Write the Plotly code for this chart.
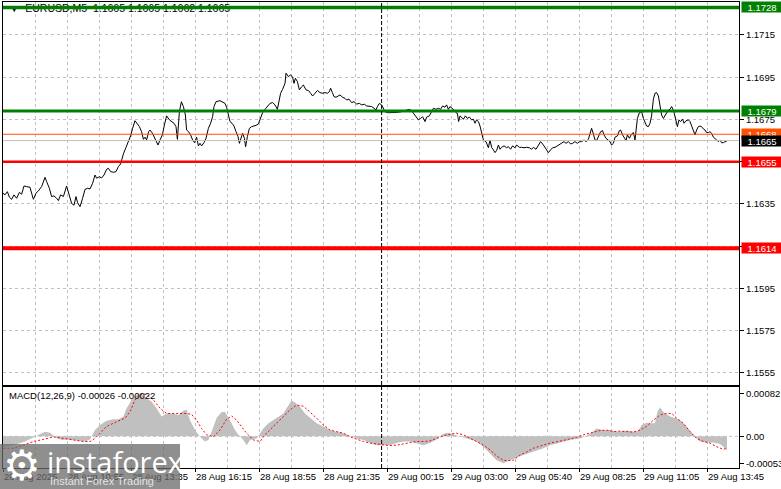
import plotly.graph_objects as go

W, H = 781, 489

# ---------------- data ----------------
price_bar = [0, 1, 2.2, 3.2, 4.3, 5.5, 6.8, 8.2, 9.3, 10.5, 11.8, 13.5, 14.3, 15.2, 16.5, 17.7, 19.3, 21, 21.8, 23.2,
             24.3, 25.5, 26.8, 27.7, 28.8, 30.2, 31.8, 33.2, 34.3, 35.5, 36.5, 37.3, 38.5, 39.8, 41, 42.2, 43.5, 44.8,
             46, 46.8, 48.2, 49.3, 50.5, 51.8, 52.7, 53.8, 55.2, 56.5, 57.7, 58.8, 60.2, 61.5, 62.7, 63.8, 64.8, 66,
             67.2, 68.2, 69.3, 70.2, 71, 71.8, 72.8, 73.5, 74.7, 75.5, 76.5, 77.5, 78.5, 79.7, 80.7, 81.8, 83.2, 84.3,
             85.5, 86.5, 87.2, 88.2, 89.2, 90.2, 91.2, 91.8, 92.8, 93.8, 94.8, 95.8, 96.8, 97.7, 98.5, 99.3, 100.5,
             101.5, 102.7, 103.8, 104.8, 105.5, 106.5, 108.5, 109.8, 111, 111.8, 112.7, 113.5, 114.5, 115.5, 116.5,
             117.5, 118.2, 119, 119.8, 120.7, 121.3, 122.2, 123.2, 124.3, 125.5, 126.5, 127.7, 128.5, 129.8, 131,
             132.2, 133.5, 134.8, 136, 137.2, 138.2, 138.8, 139.8, 141, 141.5, 142.7, 143.8, 144.8, 145.5, 146.2,
             147.2, 148.2, 149.3, 150.2, 151.5, 152.7, 153.8, 154.8, 156, 157.2, 158.5, 159.8, 161, 162.2, 163.2,
             163.8, 164.7, 165.5, 166.5, 167.7, 168.5, 169.8, 171, 171.8, 173, 174.3, 175.5, 176.8, 178.2, 179.3,
             180.7, 181.8, 183.2, 184.3, 185.5, 186.5, 187.2, 188.2, 189.3, 190.2,
             191, 192.2, 194.3, 196.8, 199.3, 201.8, 203.2, 204.3, 205.2, 206.5, 207.7, 208.8, 209.8, 211, 211.8,
             213.2, 214.3, 215.2, 216.5, 217.7, 218.8, 219.8, 221, 221.8, 222.7, 223.5, 225.5, 226.5, 227.2, 227.8,
             228.5, 230.2, 231.2, 232.2, 233.2, 234.3, 235.2, 236, 236.8, 237.7, 238.5, 239.3, 240.2, 241.5, 242.7,
             243.5, 244.3, 245.2, 246, 246.8, 247.7, 248.5, 249.3, 250.5, 251.8, 252.7, 253.8, 254.8, 256, 256.8,
             258.2, 259.3, 260.5, 261.8, 263.2, 264.3, 265.2, 266.5, 267.7, 268.8, 270.2, 271.5, 272.7, 273.8, 274.8,
             276, 277.2, 278.2, 279.3, 280.5, 281.5, 282.7, 283.8, 284.8, 286, 287.2, 288.2, 289.3, 290.5, 291.5,
             292.7, 293.5, 294.3, 295.2, 296, 296.8, 297.7, 298.8, 299.8, 300.5, 301.5, 302.7, 303.5, 304.3, 305.2,
             306, 307.2, 308.2, 308.8, 309.8, 310.7, 311.5, 312.2, 313.2, 314.3, 315.2, 316, 316.5, 317.2, 318.2,
             319.3, 320.2, 321, 321.8, 322.7, 323.5, 324.3, 325.2, 326, 326.8, 327.7, 328.5, 329.3, 330.2, 331,
             331.8, 332.7, 333.5, 334.3, 335.2, 336, 337.2, 338, 338.8, 339.8, 340.5, 341.5, 342.7, 343.5, 344.3,
             345.2, 346, 346.8, 347.7, 348.5, 349.3, 350.2, 351, 351.8, 352.7, 353.5, 354.3, 355.2, 356, 356.8,
             357.7, 358.5, 359.3, 360.2, 361, 361.8]
price_close = [1.16401, 1.16393, 1.16408, 1.16382, 1.16372, 1.16393, 1.16377, 1.16405, 1.16396, 1.16435, 1.16432,
               1.16429, 1.16401, 1.16372, 1.16401, 1.16412, 1.16432, 1.16476, 1.16456, 1.16424, 1.16385, 1.16388,
               1.16377, 1.16366, 1.16393, 1.16385, 1.16435, 1.16393, 1.16353, 1.16344, 1.16385, 1.16356, 1.16337,
               1.16377, 1.16419, 1.16424, 1.16421, 1.16448, 1.16487, 1.16472, 1.16479, 1.16473, 1.16487, 1.16514,
               1.16519, 1.16503, 1.16500, 1.16503, 1.16527, 1.16539, 1.16587, 1.16618, 1.16645, 1.16672, 1.16708,
               1.16744, 1.16729, 1.16716, 1.16692, 1.16656, 1.16666, 1.16653, 1.16692, 1.16700, 1.16685, 1.16669,
               1.16645, 1.16629, 1.16653, 1.16677, 1.16724, 1.16767, 1.16748, 1.16740, 1.16732, 1.16716, 1.16656,
               1.16787, 1.16834, 1.16811, 1.16771, 1.16700, 1.16692, 1.16677, 1.16653, 1.16640, 1.16666, 1.16625,
               1.16637, 1.16625, 1.16640, 1.16661, 1.16708, 1.16732, 1.16763, 1.16811, 1.16834, 1.16839, 1.16834,
               1.16826, 1.16808, 1.16776, 1.16740, 1.16732, 1.16719, 1.16692, 1.16669, 1.16637, 1.16666, 1.16685,
               1.16661, 1.16621, 1.16669, 1.16708, 1.16716, 1.16719, 1.16722, 1.16729, 1.16748, 1.16782, 1.16798,
               1.16811, 1.16826, 1.16830, 1.16819, 1.16798, 1.16855, 1.16874, 1.16893, 1.16921, 1.16969, 1.16953,
               1.16961, 1.16950, 1.16921, 1.16945, 1.16929, 1.16890, 1.16905, 1.16913, 1.16890, 1.16887, 1.16874,
               1.16861, 1.16874, 1.16887, 1.16877, 1.16874, 1.16877, 1.16874, 1.16882, 1.16898, 1.16877, 1.16858,
               1.16855, 1.16861, 1.16866, 1.16855, 1.16850, 1.16842, 1.16846, 1.16830, 1.16834, 1.16823, 1.16826,
               1.16819, 1.16822, 1.16814, 1.16811, 1.16811, 1.16803, 1.16795, 1.16811, 1.16826, 1.16819, 1.16798,
               1.16787, 1.16782, 1.16782, 1.16783, 1.16787, 1.16795, 1.16798, 1.16791, 1.16779, 1.16763, 1.16748,
               1.16755, 1.16763, 1.16740, 1.16761, 1.16767, 1.16787, 1.16803, 1.16798, 1.16803, 1.16798, 1.16814,
               1.16808, 1.16819, 1.16798, 1.16811, 1.16795, 1.16782, 1.16779, 1.16740, 1.16767, 1.16751, 1.16767,
               1.16755, 1.16761, 1.16748, 1.16751, 1.16732, 1.16748, 1.16740, 1.16719, 1.16692, 1.16653, 1.16645,
               1.16616, 1.16653, 1.16618, 1.16606, 1.16593, 1.16603, 1.16629, 1.16609, 1.16618, 1.16625, 1.16616,
               1.16621, 1.16609, 1.16625, 1.16616, 1.16629, 1.16618, 1.16618, 1.16616, 1.16618, 1.16616, 1.16609,
               1.16618, 1.16609, 1.16629, 1.16645, 1.16629, 1.16609, 1.16593, 1.16606, 1.16616, 1.16618, 1.16625,
               1.16634, 1.16640, 1.16645, 1.16637, 1.16645, 1.16634, 1.16637, 1.16645, 1.16637, 1.16645, 1.16645,
               1.16653, 1.16645, 1.16656, 1.16688, 1.16708, 1.16681, 1.16653, 1.16650, 1.16669, 1.16692, 1.16697,
               1.16677, 1.16661, 1.16653, 1.16645, 1.16629, 1.16637, 1.16666, 1.16672, 1.16697, 1.16700, 1.16677,
               1.16661, 1.16650, 1.16677, 1.16661, 1.16681, 1.16688, 1.16653, 1.16708, 1.16755, 1.16782, 1.16787,
               1.16755, 1.16732, 1.16719, 1.16716, 1.16732, 1.16767, 1.16846, 1.16874, 1.16877, 1.16861, 1.16811,
               1.16771, 1.16755, 1.16767, 1.16779, 1.16795, 1.16798, 1.16811, 1.16795, 1.16763, 1.16716, 1.16748,
               1.16740, 1.16751, 1.16732, 1.16744, 1.16748, 1.16740, 1.16719, 1.16700, 1.16677, 1.16700, 1.16716,
               1.16719, 1.16716, 1.16705, 1.16700, 1.16688, 1.16688, 1.16692, 1.16685, 1.16666, 1.16661, 1.16653,
               1.16645, 1.16653, 1.16640, 1.16640, 1.16645, 1.16645]

hist_bar = [0, 5.2, 11, 15.2, 18.5, 21, 23.5, 26, 29.3, 31.8, 36.8, 41, 43.5, 46, 48.5, 51.8, 55.2, 57.7, 60.2, 61.8,
            64.3, 66, 67.7, 69.3, 71.8, 74.3, 76.8, 79.3, 81.8, 85.2, 87.7, 90.2, 91.8, 93.5, 96, 98.5, 101, 102.7,
            104.3, 106.8, 109.3, 111, 113.5, 116, 117.7, 120.2, 121.8, 123.5, 126.8, 128.5, 130.2, 132.7, 135.2,
            137.7, 140.2, 141.8, 143.2, 144.3, 146, 148.5, 151, 153.5, 156.8, 160.2, 163.5, 166.8, 170.2, 173.5,
            176.8, 180.2, 183.5, 186.8, 190.2, 193.5, 196.8, 200.2, 203.5, 206.8, 210.2, 213.5, 216.8, 219.3, 221.8,
            223.5, 226, 228.5, 230.2, 233.5, 236.8, 240.2, 243.5, 246.8, 250.2, 251.8, 256, 260.2, 265.2, 270.2,
            273.5, 278.5, 283.5, 288.5, 291.8, 294.3, 296.8, 300.2, 303.5, 307.7, 311.8, 315.2, 317.7, 319.3, 321.8,
            324.3, 326, 327.2, 328.5, 330.2, 333.5, 336, 338.5, 341.8, 344.3, 346, 348.5, 351.8, 355.2, 358.5, 361,
            362]
hist_val = [-0.00020, -0.00017, -0.00010, -0.00002, 0.00003, 0.00009, 0.00007, -0.00002, -0.00007, -0.00006,
            -0.00008, -0.00010, -0.00006, 0.00012, 0.00022, 0.00030, 0.00033, 0.00033, 0.00038, 0.00054, 0.00070,
            0.00078, 0.00081, 0.00081, 0.00073, 0.00067, 0.00054, 0.00038, 0.00044, 0.00044, 0.00041, 0.00049,
            0.00051, 0.00031, 0.00012, -0.00001, -0.00010, -0.00007, 0.00009, 0.00035, 0.00047, 0.00047, 0.00031,
            0.00012, 0.00003, -0.00007, -0.00017, -0.00007, -0.00004, 0.00006, 0.00015, 0.00025, 0.00031, 0.00037,
            0.00044, 0.00054, 0.00064, 0.00069, 0.00065, 0.00057, 0.00044, 0.00035, 0.00025, 0.00019, 0.00012,
            0.00009, 0.00006, 0.00001, -0.00004, -0.00007, -0.00013, -0.00017, -0.00017, -0.00017, -0.00013,
            -0.00010, -0.00010, -0.00013, -0.00017, -0.00013, -0.00006, 0.00003, 0.00007, 0.00006, 0.00003,
            -0.00001, -0.00002, -0.00006, -0.00010, -0.00020, -0.00033, -0.00046, -0.00052, -0.00049, -0.00042,
            -0.00036, -0.00030, -0.00023, -0.00017, -0.00012, -0.00007, -0.00004, 0.00001, 0.00007, 0.00015,
            0.00012, 0.00012, 0.00009, 0.00011, 0.00009, 0.00010, 0.00022, 0.00026, 0.00025, 0.00025, 0.00047,
            0.00056, 0.00047, 0.00038, 0.00035, 0.00031, 0.00019, 0.00006, -0.00001, -0.00010, -0.00012, -0.00012,
            -0.00015, -0.00023, -0.00028, -0.00026]

sig_bar = [0.2, 5.2, 10.2, 15.2, 20.2, 25.2, 30.2, 35.2, 40.2, 43.5, 46, 48.5, 51.8, 56.8, 61, 63.5, 66, 68.5, 71.8,
           75.2, 78.5, 81.8, 86.8, 91.8, 94.3, 96.8, 99.3, 101.8, 105.2, 108.5, 111.8, 114.3, 116.8, 119.3, 121.8,
           125.2, 128.5, 131, 133.5, 136.8, 140.2, 143.5, 146.8, 150.2, 153.5, 156.8, 160.2, 163.5, 166.8, 170.2,
           173.5, 176.8, 180.2, 183.5, 186.8, 190.2, 193.5, 196.8, 200.2, 203.5, 206.8, 210.2, 213.5, 216.8, 220.2,
           223.5, 226.8, 230.2, 233.5, 236.8, 240.2, 243.5, 246.8, 250.2, 251.8, 255.2, 258.5, 261.8, 265.2, 270.2,
           273.5, 277.7, 281.8, 286.8, 290.2, 294.3, 298.5, 301.8, 305.2, 308.5, 311.8, 315.2, 318.5, 321.8, 325.2,
           328.5, 331.8, 334.3, 336.8, 340.2, 343.5, 346.8, 350.2, 353.5, 356.8, 360.2, 361.8]
sig_val = [-0.00023, -0.00023, -0.00017, -0.00010, -0.00006, -0.00001, -0.00004, -0.00007, -0.00010, -0.00010,
           -0.00004, 0.00006, 0.00019, 0.00028, 0.00035, 0.00047, 0.00070, 0.00081, 0.00081, 0.00070, 0.00054,
           0.00044, 0.00044, 0.00044, 0.00042, 0.00031, 0.00015, 0.00003, -0.00001, 0.00012, 0.00033, 0.00039,
           0.00031, 0.00019, 0.00006, -0.00007, -0.00010, 0.00003, 0.00012, 0.00025, 0.00038, 0.00051, 0.00060,
           0.00058, 0.00047, 0.00035, 0.00022, 0.00012, 0.00009, 0.00006, -0.00001, -0.00006, -0.00010, -0.00013,
           -0.00015, -0.00017, -0.00018, -0.00017, -0.00015, -0.00012, -0.00010, -0.00010, -0.00009, -0.00004,
           0.00001, 0.00004, 0.00006, 0.00003, -0.00004, -0.00010, -0.00017, -0.00026, -0.00038, -0.00046,
           -0.00047, -0.00046, -0.00036, -0.00030, -0.00023, -0.00017, -0.00013, -0.00010, -0.00006, -0.00002,
           0.00003, 0.00007, 0.00011, 0.00012, 0.00009, 0.00010, 0.00009, 0.00008, 0.00012, 0.00019, 0.00031,
           0.00041, 0.00044, 0.00044, 0.00035, 0.00025, 0.00009, -0.00004, -0.00010, -0.00013, -0.00020, -0.00025,
           -0.00023]

level_values = [1.1728, 1.1679, 1.1668, 1.1665, 1.1655, 1.1614]
level_line_colors = ["#008000", "#008000", "#FF5000", "#C0C0C0", "#FF0000", "#FF0000"]
level_label_colors = ["#008000", "#008000", "#FF5000", "#000000", "#FF0000", "#FF0000"]
level_widths = [3.5, 3, 1, 1, 2.5, 4]

time_tick_bars = [0, 32, 64, 96, 128, 160, 192, 224, 256, 288, 320, 352]
time_tick_labels = ["28 Aug 2025", "28 Aug 10:55", "28 Aug 13:35", "28 Aug 16:15", "28 Aug 18:55",
                    "28 Aug 21:35", "29 Aug 00:15", "29 Aug 03:00", "29 Aug 05:40", "29 Aug 08:25",
                    "29 Aug 11:05", "29 Aug 13:45"]
grid_step_bars = 16
day_separator_bar = 189.3
price_ticks = [1.1555, 1.1575, 1.1595, 1.1615, 1.1635, 1.1655, 1.1675, 1.1695, 1.1715]
macd_ticks = [0.00082, 0.0, -0.00053]
macd_tick_text = ["0.00082", "0.00", "-0.00053"]
header_text = "EURUSD,M5  1.1665 1.1665 1.1662 1.1665"
macd_text = "MACD(12,26,9) -0.00026 -0.00022"

# ---------------- layout geometry (pixels) ----------------
X_LEFT, X_RIGHT = 3, 739
MAIN_TOP, MAIN_BOT = 2, 385
MACD_TOP, MACD_BOT = 387, 468
BAR_RANGE = [0, 368]
PRICE_RANGE = [1.15493, 1.17306]
MACD_RANGE = [-0.000610, 0.000949]

FONT = "Liberation Sans"
GRID = "#C0C0C0"


def py(p):
    return 1 - p / H


def px(p):
    return p / W


fig = go.Figure()

fig.add_trace(go.Scatter(x=hist_bar, y=hist_val, xaxis="x2", yaxis="y2", mode="lines",
                         line=dict(width=0, color="#C0C0C0"), fill="tozeroy", fillcolor="#C0C0C0",
                         hoverinfo="skip", showlegend=False))
fig.add_trace(go.Scatter(x=sig_bar, y=sig_val, xaxis="x2", yaxis="y2", mode="lines",
                         line=dict(width=1, color="#FF0000", dash="2px,2px"), showlegend=False))
fig.add_trace(go.Scatter(x=price_bar, y=price_close, xaxis="x", yaxis="y", mode="lines",
                         line=dict(width=1, color="#000000"), showlegend=False))

# header text (drawn under the top level line, as in the terminal)
header_y = PRICE_RANGE[1] - (9 - MAIN_TOP) / (MAIN_BOT - MAIN_TOP) * (PRICE_RANGE[1] - PRICE_RANGE[0])
fig.add_trace(go.Scatter(x=[3], y=[header_y], mode="text", text=["\u25BC  " + header_text],
                         textposition="middle right", textfont=dict(family=FONT, size=10.5, color="#000000"),
                         xaxis="x", yaxis="y", showlegend=False, hoverinfo="skip", cliponaxis=False))

shapes = []
for v, c, w in zip(level_values, level_line_colors, level_widths):
    shapes.append(dict(type="line", xref="x", yref="y", x0=BAR_RANGE[0], x1=BAR_RANGE[1], y0=v, y1=v,
                       line=dict(color=c, width=w), layer="above"))
for ax in ("y", "y2"):
    shapes.append(dict(type="line", xref="x", yref=f"{ax} domain", x0=day_separator_bar, x1=day_separator_bar,
                       y0=0, y1=1, line=dict(color="#000000", width=1, dash="4px,2px"), layer="above"))
shapes.append(dict(type="line", xref="x2", yref="y2", x0=BAR_RANGE[0], x1=BAR_RANGE[1], y0=0, y1=0,
                   line=dict(color=GRID, width=1, dash="3px,3px"), layer="below"))
# watermark box
shapes.append(dict(type="rect", xref="paper", yref="paper", x0=0, x1=px(180), y0=0, y1=py(444),
                   fillcolor="rgba(105,105,105,0.75)", line=dict(width=0), layer="above"))

annotations = []
for v, c in zip(level_values, level_label_colors):
    annotations.append(dict(xref="paper", yref="y", x=px(741), y=v, xanchor="left", yanchor="middle",
                            text=f"{v:.4f}", showarrow=False, bgcolor=c, width=40, height=10, borderpad=0,
                            align="center", font=dict(family=FONT, size=9.5, color="#FFFFFF")))
annotations.append(dict(xref="paper", yref="paper", x=px(7), y=py(395), xanchor="left", yanchor="middle",
                        text=macd_text, showarrow=False, font=dict(family=FONT, size=9.5, color="#000000")))
annotations.append(dict(xref="paper", yref="paper", x=px(22), y=py(465), xanchor="center", yanchor="middle",
                        text="\u2699", showarrow=False, font=dict(family="DejaVu Sans", size=42, color="#FFFFFF")))
annotations.append(dict(xref="paper", yref="paper", x=px(45), y=py(461), xanchor="left", yanchor="middle",
                        text="instaforex", showarrow=False, font=dict(family="Open Sans", size=29, color="#FFFFFF")))
annotations.append(dict(xref="paper", yref="paper", x=px(48), y=py(481), xanchor="left", yanchor="middle",
                        text="Instant Forex Trading", showarrow=False,
                        font=dict(family=FONT, size=11, color="rgba(235,235,235,0.95)")))

grid_vals = list(range(BAR_RANGE[0], BAR_RANGE[1] + 1, grid_step_bars))
axis_common = dict(showline=True, mirror=True, linecolor="#000000", linewidth=1, zeroline=False,
                   automargin=False)

fig.update_layout(
    width=W, height=H, margin=dict(l=0, r=0, t=0, b=0, autoexpand=False),
    paper_bgcolor="#FFFFFF", plot_bgcolor="#FFFFFF", showlegend=False,
    font=dict(family=FONT, size=9.5, color="#000000"),
    xaxis=dict(domain=[px(X_LEFT), px(X_RIGHT)], range=BAR_RANGE, anchor="y", tickvals=grid_vals,
               showticklabels=False, ticks="", showgrid=True, gridcolor=GRID, griddash="3px,3px",
               gridwidth=1, **axis_common),
    yaxis=dict(domain=[py(MAIN_BOT), py(MAIN_TOP)], range=PRICE_RANGE, anchor="x", side="right",
               tickvals=price_ticks, ticktext=[f"{v:.4f}" for v in price_ticks], ticks="outside", ticklen=4,
               tickcolor="#000000", showgrid=True, gridcolor=GRID, griddash="3px,3px", gridwidth=1,
               tickfont=dict(family=FONT, size=9.5, color="#000000"), **axis_common),
    xaxis2=dict(domain=[px(X_LEFT), px(X_RIGHT)], range=BAR_RANGE, anchor="y2", tickvals=time_tick_bars,
                ticktext=time_tick_labels, ticks="outside", ticklen=3, tickcolor="#000000", tickangle=0,
                ticklabelposition="outside right", tickfont=dict(family=FONT, size=9.5, color="#000000"),
                showgrid=True, gridcolor=GRID, griddash="3px,3px", gridwidth=1,
                minor=dict(tickvals=grid_vals, showgrid=True, gridcolor=GRID, griddash="3px,3px", ticks=""),
                **axis_common),
    yaxis2=dict(domain=[py(MACD_BOT), py(MACD_TOP)], range=MACD_RANGE, anchor="x2", side="right",
                tickvals=macd_ticks, ticktext=macd_tick_text, ticks="outside", ticklen=4, tickcolor="#000000",
                showgrid=False, tickfont=dict(family=FONT, size=9.5, color="#000000"), **axis_common),
    shapes=shapes,
    annotations=annotations,
)

fig.write_html("out.html", config={"displayModeBar": False},
               post_script="document.body.style.margin='0';document.body.style.overflow='hidden';")
